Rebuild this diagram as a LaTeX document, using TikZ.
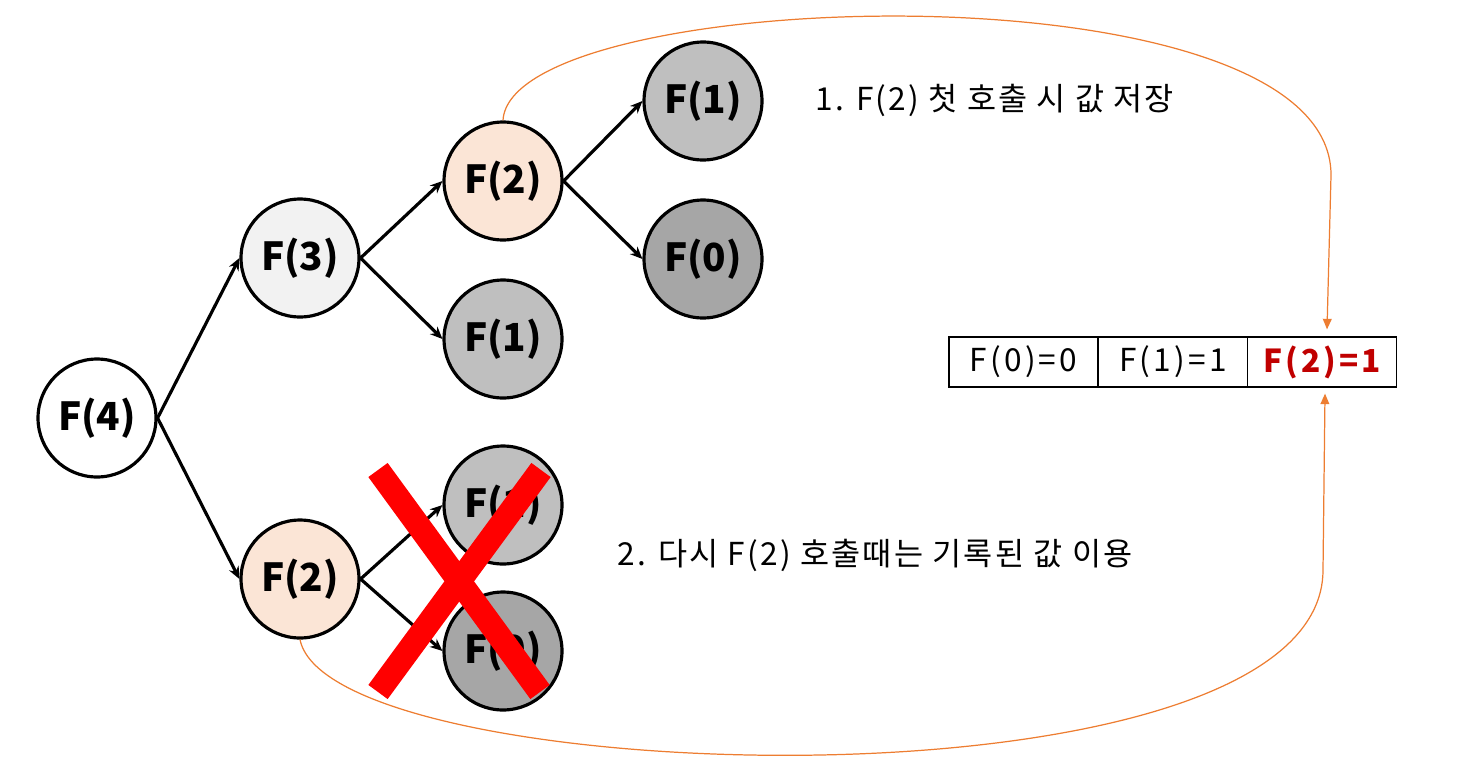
\documentclass[tikz,border=0pt]{standalone}
\usepackage{fontspec}
\setmainfont{Noto Sans CJK KR}
\newfontfamily\krfont[LetterSpace=7]{Noto Sans CJK KR}
\newfontfamily\cellfont[LetterSpace=10]{Noto Sans CJK KR}
\usetikzlibrary{arrows.meta}
\definecolor{peach}{HTML}{FBE5D6}
\definecolor{lgray}{HTML}{F2F2F2}
\definecolor{mgray}{HTML}{BFBFBF}
\definecolor{dgray}{HTML}{A6A6A6}
\definecolor{memo}{HTML}{ED7D31}
\definecolor{darkred}{HTML}{C00000}
\begin{document}
\begin{tikzpicture}[x=0.02cm, y=-0.02cm, >={Stealth[length=7pt,width=6pt]},
  call/.style={draw, circle, line width=1.8pt, minimum size=2.36cm, inner sep=0pt,
    font=\fontsize{22}{24}\selectfont\bfseries},
  cell/.style={draw, line width=0.7pt, minimum width=2.98cm, minimum height=1cm,
    inner sep=0pt, font=\cellfont\fontsize{18}{20}\selectfont},
  memoline/.style={memo, line width=0.7pt, -{Triangle[length=6pt,width=5pt]}},
  note/.style={anchor=west, inner sep=0pt, font=\krfont\fontsize{18}{22}\selectfont}]
\useasboundingbox (0,0) rectangle (1466,774);
% call tree
\node[call, fill=white] (f4) at (97,418) {F(4)};
\node[call, fill=lgray] (f3) at (300,258) {F(3)};
\node[call, fill=peach] (f2a) at (503,181) {F(2)};
\node[call, fill=mgray] (f1a) at (503,339) {F(1)};
\node[call, fill=mgray] (f1b) at (703,101) {F(1)};
\node[call, fill=dgray] (f0b) at (703,259) {F(0)};
\node[call, fill=peach] (f2c) at (300,579) {F(2)};
\node[call, fill=mgray] (f1c) at (503,505) {F(1)};
\node[call, fill=dgray] (f0c) at (503,651) {F(0)};
\draw[->, line width=1.8pt] (f4.east)--(f3.west);
\draw[->, line width=1.8pt] (f4.east)--(f2c.west);
\draw[->, line width=1.8pt] (f3.east)--(f2a.west);
\draw[->, line width=1.8pt] (f3.east)--(f1a.west);
\draw[->, line width=1.8pt] (f2a.east)--(f1b.west);
\draw[->, line width=1.8pt] (f2a.east)--(f0b.west);
\draw[->, line width=1.8pt] (f2c.east)--(f1c.west);
\draw[->, line width=1.8pt] (f2c.east)--(f0c.west);
% memo table
\node[cell] (t0) at (1023.5,362) {F(0)=0};
\node[cell] (t1) at (1173,362) {F(1)=1};
\node[cell, text=darkred, font=\cellfont\fontsize{18}{20}\selectfont\bfseries] (t2) at (1322,362) {F(2)=1};
% notes
\node[note] (n1) at (815,100) {1. F(2) 첫 호출 시 값 저장};
\node[note] (n2) at (617,555) {2. 다시 F(2) 호출때는 기록된 값 이용};
% store and reuse
\draw[memoline] (f2a.north) .. controls (510,-15) and (1331,-40) .. (1331,175)
  -- ([xshift=0.1cm,yshift=0.14cm]t2.north);
\draw[memoline] (f2c.south) .. controls (330,790) and (1323,820) .. (1323,570)
  -- ([xshift=0.06cm,yshift=-0.12cm]t2.south);
% skipped calls
\draw[red, line width=13.6pt] (378,470)--(540,692);
\draw[red, line width=13.6pt] (541,470)--(378,692);
\end{tikzpicture}
\end{document}
